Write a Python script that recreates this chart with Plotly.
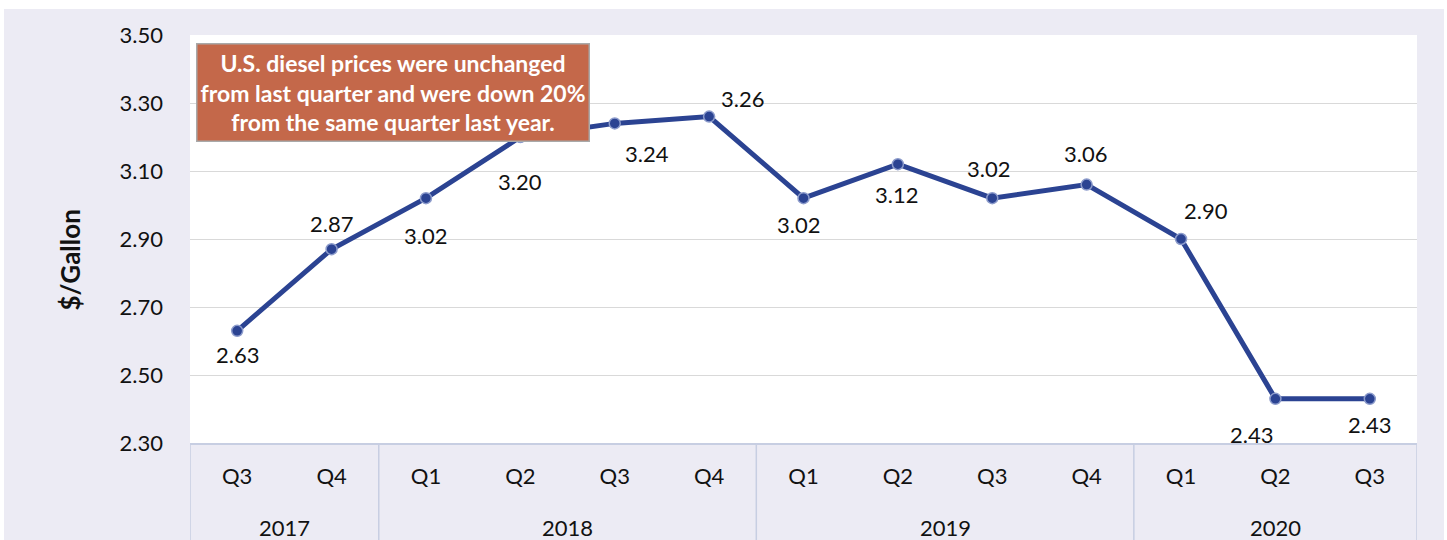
import plotly.graph_objects as go

years = ["2017", "2017", "2018", "2018", "2018", "2018", "2019", "2019", "2019", "2019", "2020", "2020", "2020"]
quarters = ["Q3", "Q4", "Q1", "Q2", "Q3", "Q4", "Q1", "Q2", "Q3", "Q4", "Q1", "Q2", "Q3"]
diesel_price = [2.63, 2.87, 3.02, 3.20, 3.24, 3.26, 3.02, 3.12, 3.02, 3.06, 2.90, 2.43, 2.43]
y_ticks = [2.30, 2.50, 2.70, 2.90, 3.10, 3.30, 3.50]

note_text = ("U.S. diesel prices were unchanged<br>"
             "from last quarter and were down 20%<br>"
             "from the same quarter last year.")

# label offsets (px) relative to each point
label_dx = [0, 0, 0, 0, 32, 33, -5, -1, -4, -1, 25, -24, 0]
label_dy = [-24, 26, -37, -44, -30, 18, -26, -30, 30, 31, 29, -36, -26]

FONT = "Lato, Carlito, Calibri, sans-serif"
LINE = "#2B4392"
BG = "#ECEBF4"
EDGE = "#C7CEE2"
TXT = "#111111"

cats = [f"{y} {q}" for y, q in zip(years, quarters)]

fig = go.Figure()
fig.add_trace(go.Scatter(
    x=cats,
    y=diesel_price,
    mode="lines+markers",
    line=dict(color=LINE, width=5),
    marker=dict(size=11, color=LINE, line=dict(color="#8C9BCB", width=1.5)),
    hoverinfo="x+y",
    showlegend=False,
))

for c, v, dx, dy in zip(cats, diesel_price, label_dx, label_dy):
    fig.add_annotation(
        x=c, y=v, text=f"{v:.2f}", showarrow=False,
        xshift=dx, yshift=dy, font=dict(size=22, color=TXT, family=FONT),
    )

# year groups: dividers and centred labels
groups = []
for i, y in enumerate(years):
    if groups and groups[-1][0] == y:
        groups[-1][2] = i
    else:
        groups.append([y, i, i])

edges = sorted({g[1] - 0.5 for g in groups} | {groups[-1][2] + 0.5})
for e in edges:
    fig.add_shape(type="line", xref="x", yref="paper", x0=e, x1=e, y0=0, y1=-0.35,
                  line=dict(color=EDGE, width=1.5))
for y, i0, i1 in groups:
    fig.add_annotation(x=(i0 + i1) / 2, xref="x", yref="paper", y=-0.208, yanchor="middle",
                       text=y, showarrow=False, font=dict(size=22, color=TXT, family=FONT))

fig.add_annotation(
    xref="paper", yref="paper", x=0.1653, y=0.860, xanchor="center", yanchor="middle",
    text=note_text, showarrow=False, align="center",
    font=dict(size=23, color="white", family=FONT, weight="bold"),
    bgcolor="#C4684A", bordercolor="#A9A9A9", borderwidth=1.5, borderpad=0,
    width=391, height=96,
)

fig.add_annotation(
    xref="paper", yref="paper", x=-0.098, y=0.449, xanchor="center", yanchor="middle",
    text="$/Gallon", textangle=-90, showarrow=False,
    font=dict(size=26, color=TXT, family=FONT, weight="bold"),
)

fig.update_layout(
    width=1440, height=560,
    margin=dict(l=186, r=27, t=26, b=126),
    paper_bgcolor=BG,
    plot_bgcolor="white",
    font=dict(family=FONT, size=22, color=TXT),
    xaxis=dict(
        type="category", range=[-0.5, len(cats) - 0.5],
        tickvals=cats, ticktext=quarters,
        showline=True, linecolor=EDGE, linewidth=1.5,
        showgrid=False, ticks="outside", ticklen=0,
        ticklabelstandoff=13, automargin=False,
        tickfont=dict(size=22, family=FONT, color=TXT),
    ),
    yaxis=dict(
        range=[2.30, 3.50], tickvals=y_ticks, tickformat=".2f",
        showgrid=True, gridcolor="#D9D9D9", gridwidth=1,
        zeroline=False, showline=False,
        ticklabelstandoff=26, automargin=False,
        tickfont=dict(size=22, family=FONT, color=TXT),
    ),
)

fig.write_html("out.html", post_script="document.body.style.margin='9px 0 0 4px';")
